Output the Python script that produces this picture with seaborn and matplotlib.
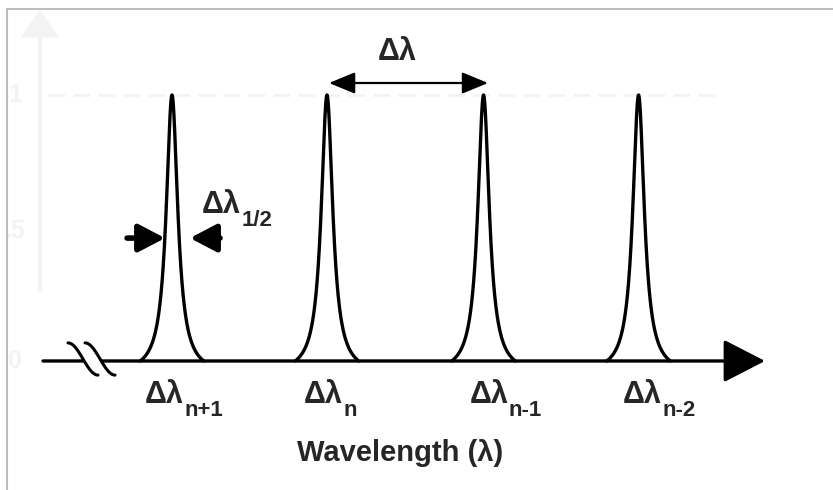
import numpy as np
import pandas as pd
import matplotlib.pyplot as plt
from matplotlib.lines import Line2D
import seaborn as sns

# channels of the comb, in units of channel spacing
channels = ['n+1', 'n', 'n-1', 'n-2']
peak_centers = [0.0, 1.0, 2.01, 3.01]
peak_heights = [1.0, 1.0, 1.0, 1.0]
half_width = 0.045      # Lorentzian HWHM
base_half_width = 0.205 # where the drawn line meets the axis
label_shift = [-0.175, -0.15, -0.092, -0.1]
ghost_ticks = [1.0, 0.49, 0.0]
ghost_labels = ['1', '.5', '0']

sns.set_theme(style='white')
plt.rcParams['font.family'] = ['Liberation Sans', 'DejaVu Sans']
plt.rcParams['font.weight'] = 'bold'

rows = []
for ch, c, h in zip(channels, peak_centers, peak_heights):
    x = np.linspace(-base_half_width, base_half_width, 401)
    lor = 1 / (1 + (x / half_width) ** 2)
    lb = 1 / (1 + (base_half_width / half_width) ** 2)
    y = h * (lor - lb) / (1 - lb)
    rows.append(pd.DataFrame({'wavelength': c + x, 'intensity': y, 'channel': ch}))
df = pd.concat(rows, ignore_index=True)

fig = plt.figure(figsize=(8.33, 4.9), dpi=100)
ax = fig.add_axes([0, 0, 1, 1])
ax.set_xlim(-1.1097, 4.2645)
ax.set_ylim(-0.485, 1.357)
ax.axis('off')

# faint ghost axis of the original scan
ghost = '#f3f3f3'
ax.plot([-0.852, -0.852], [0.267, 1.22], color=ghost, lw=3, zorder=0)
ax.annotate('', xy=(-0.852, 1.32), xytext=(-0.852, 1.2),
            arrowprops=dict(arrowstyle='-|>,head_length=1.0,head_width=0.7',
                            mutation_scale=20, color=ghost, lw=0, shrinkA=0, shrinkB=0))
ax.plot([-0.8, 3.535], [1.0, 1.0], color=ghost, lw=2, ls=(0, (6, 3)), zorder=0)
for v, s in zip(ghost_ticks, ghost_labels):
    ax.text(-1.013, v, s, color=ghost, fontsize=18, ha='center', va='center')

# peaks
sns.lineplot(data=df, x='wavelength', y='intensity', units='channel', estimator=None,
             sort=False, color='black', lw=2.4, ax=ax, legend=False, zorder=3)

# wavelength axis with arrow
ax.annotate('', xy=(3.826, 0), xytext=(-0.832, 0),
            arrowprops=dict(arrowstyle='-|>,head_length=1.3,head_width=0.67',
                            mutation_scale=20, color='black', lw=2.4,
                            shrinkA=0, shrinkB=0), zorder=2)

# axis break
t = np.linspace(0, 1, 60)
bx = 0.1935 * t
by = 0.068 - 0.121 * (0.5 - 0.5 * np.cos(np.pi * t))
ax.fill_betweenx(by, -0.671 + bx, -0.561 + bx, color='white', zorder=4)
for x0 in (-0.671, -0.561):
    ax.plot(x0 + bx, by, color='black', lw=2.2, zorder=5)

# channel spacing arrow
ax.annotate('', xy=(2.039, 1.045), xytext=(1.013, 1.045),
            arrowprops=dict(arrowstyle='<|-|>,head_length=0.8,head_width=0.33',
                            mutation_scale=20, color='black', lw=1.6,
                            shrinkA=0, shrinkB=0))
ax.text(1.452, 1.132, 'Δλ', fontsize=22, fontweight='bold', ha='center', va='baseline')

# half-width arrows
for tail, tip in ((-0.29, -0.045), (0.31, 0.116)):
    ax.annotate('', xy=(tip, 0.462), xytext=(tail, 0.462),
                arrowprops=dict(arrowstyle='-|>,head_length=0.8,head_width=0.42',
                                mutation_scale=20, color='black', lw=4,
                                shrinkA=0, shrinkB=0))


def sub_label(x, y, sub):
    main = ax.text(x, y, 'Δλ', fontsize=22, fontweight='bold', ha='left', va='baseline')
    ax.annotate(sub, xy=(1, 0), xycoords=main, xytext=(0.5, -4.5),
                textcoords='offset points', fontsize=16, fontweight='bold',
                ha='left', va='baseline')


sub_label(0.194, 0.556, '1/2')
for ch, c, s in zip(channels, peak_centers, label_shift):
    sub_label(c + s, -0.158, ch)

ax.text(1.471, -0.376, 'Wavelength (λ)', fontsize=21, fontweight='bold',
        ha='center', va='baseline')

# frame of the original figure (left and top only)
fig.add_artist(Line2D([7 / 833, 7 / 833], [0, 1 - 9 / 490], color='#bdbdbd', lw=1.5,
                      transform=fig.transFigure))
fig.add_artist(Line2D([7 / 833, 1], [1 - 9 / 490, 1 - 9 / 490], color='#bdbdbd', lw=1.5,
                      transform=fig.transFigure))

fig.savefig('out.png', dpi=100)
